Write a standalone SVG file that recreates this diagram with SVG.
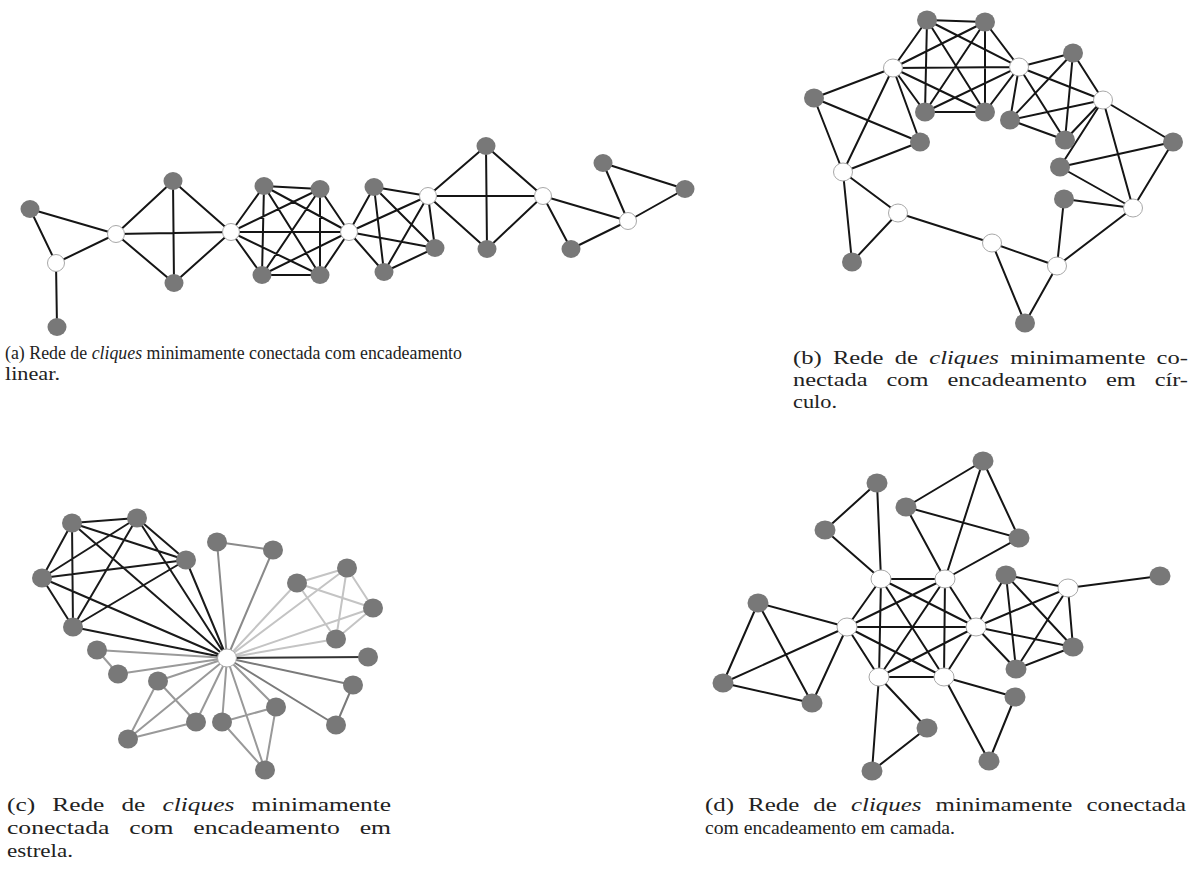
<svg xmlns="http://www.w3.org/2000/svg" width="1194" height="871" viewBox="0 0 1194 871">
<style>
.e{stroke:#151515;stroke-width:2;fill:none;stroke-linecap:round}
.g{fill:#787878}
.w{fill:#fff;stroke:#a8a8a8;stroke-width:1}
.cap{font-family:"Liberation Serif","DejaVu Serif",serif;fill:#222}
.it{font-style:italic}
</style>
<rect width="1194" height="871" fill="#fff"/>

<g id="connectors">
 <g id="edges-a" class="e">
  <path d="M30 209L116 234M30 209L56 263M56 263L116 234M56 263L57 327"/>
  <path d="M116 234L173 181M116 234L174 283M116 234L231 232M173 181L174 283M173 181L231 232M174 283L231 232"/>
  <path d="M231 232L264 186M231 232L320 189M231 232L262 275M231 232L320 275M231 232L349 232M264 186L320 189M264 186L262 275M264 186L320 275M264 186L349 232M320 189L262 275M320 189L320 275M320 189L349 232M262 275L320 275M262 275L349 232M320 275L349 232"/>
  <path d="M349 232L374 187M349 232L428 196M349 232L435 248M349 232L384 272M374 187L428 196M374 187L435 248M374 187L384 272M428 196L435 248M428 196L384 272M435 248L384 272"/>
  <path d="M428 196L486 146M428 196L487 249M428 196L543 196M486 146L487 249M486 146L543 196M487 249L543 196"/>
  <path d="M543 196L571 249M543 196L628 221M571 249L628 221M628 221L603 163M628 221L685 189M603 163L685 189"/>
 </g>
 <g id="edges-b" class="e">
  <path d="M893 68L927 20M893 68L985 22M893 68L1019 67M893 68L925 112M893 68L985 112M927 20L985 22M927 20L1019 67M927 20L925 112M927 20L985 112M985 22L1019 67M985 22L925 112M985 22L985 112M1019 67L925 112M1019 67L985 112M925 112L985 112"/>
  <path d="M1019 67L1073 53M1019 67L1103 100M1019 67L1010 120M1019 67L1065 140M1073 53L1103 100M1073 53L1010 120M1073 53L1065 140M1103 100L1010 120M1103 100L1065 140M1010 120L1065 140"/>
  <path d="M1103 100L1173 142M1103 100L1060 167M1103 100L1133 208M1173 142L1060 167M1173 142L1133 208M1060 167L1133 208"/>
  <path d="M1133 208L1064 199M1133 208L1057 266M1064 199L1057 266M1057 266L992 243M1057 266L1025 323M992 243L1025 323M992 243L898 213"/>
  <path d="M898 213L843 172M898 213L852 262M843 172L852 262M843 172L814 98M843 172L893 68M843 172L920 142M814 98L893 68M814 98L920 142M893 68L920 142"/>
 </g>
 <g id="edges-c" class="e">
  <path stroke="#1a1a1a" d="M227 658L72 523M227 658L137 518M227 658L186 560M227 658L42 578M227 658L73 627M72 523L137 518M72 523L186 560M72 523L42 578M72 523L73 627M137 518L186 560M137 518L42 578M137 518L73 627M186 560L42 578M186 560L73 627M42 578L73 627"/>
  <path stroke="#8a8a8a" d="M227 658L217 542M227 658L273 550M217 542L273 550"/>
  <path stroke="#c4c4c4" d="M227 658L297 583M227 658L347 568M227 658L373 608M227 658L336 639M297 583L347 568M297 583L373 608M297 583L336 639M347 568L373 608M347 568L336 639M373 608L336 639"/>
  <path stroke="#333" d="M227 658L368 657"/>
  <path stroke="#7a7a7a" d="M227 658L353 685M227 658L336 725M353 685L336 725"/>
  <path stroke="#9a9a9a" d="M227 658L97 650M227 658L118 674M97 650L118 674"/>
  <path stroke="#999" d="M227 658L158 681M227 658L196 722M227 658L128 739M158 681L196 722M158 681L128 739M196 722L128 739"/>
  <path stroke="#999" d="M227 658L222 722M227 658L276 707M227 658L265 770M222 722L276 707M222 722L265 770M276 707L265 770"/>
 </g>
 <g id="edges-d" class="e">
  <path d="M881 579L945 579M881 579L847 627M881 579L976 627M881 579L879 677M881 579L944 677M945 579L847 627M945 579L976 627M945 579L879 677M945 579L944 677M847 627L976 627M847 627L879 677M847 627L944 677M976 627L879 677M976 627L944 677M879 677L944 677"/>
  <path d="M881 579L877 483M881 579L825 530M877 483L825 530"/>
  <path d="M945 579L983 461M945 579L906 507M945 579L1019 538M983 461L906 507M983 461L1019 538M906 507L1019 538"/>
  <path d="M847 627L758 603M847 627L723 683M847 627L812 703M758 603L723 683M758 603L812 703M723 683L812 703"/>
  <path d="M976 627L1006 575M976 627L1068 588M976 627L1073 647M976 627L1016 669M1006 575L1068 588M1006 575L1073 647M1006 575L1016 669M1068 588L1073 647M1068 588L1016 669M1073 647L1016 669M1068 588L1160 576"/>
  <path d="M879 677L927 728M879 677L872 771M927 728L872 771M944 677L1015 697M944 677L989 761M1015 697L989 761"/>
 </g>
</g>

<g id="nodes-a">
 <g id="a1"><ellipse class="g" cx="30" cy="209" rx="9.5" ry="9"/></g>
 <g id="a2"><ellipse class="w" cx="56" cy="263" rx="8.5" ry="8.5"/></g>
 <g id="a3"><ellipse class="g" cx="57" cy="327" rx="9.5" ry="9"/></g>
 <g id="a4"><ellipse class="w" cx="116" cy="234" rx="8.5" ry="8.5"/></g>
 <g id="a5"><ellipse class="g" cx="173" cy="181" rx="9.5" ry="9"/></g>
 <g id="a6"><ellipse class="g" cx="174" cy="283" rx="9.5" ry="9"/></g>
 <g id="a7"><ellipse class="w" cx="231" cy="232" rx="8.5" ry="8.5"/></g>
 <g id="a8"><ellipse class="g" cx="264" cy="186" rx="9.5" ry="9"/></g>
 <g id="a9"><ellipse class="g" cx="320" cy="189" rx="9.5" ry="9"/></g>
 <g id="a10"><ellipse class="g" cx="262" cy="275" rx="9.5" ry="9"/></g>
 <g id="a11"><ellipse class="g" cx="320" cy="275" rx="9.5" ry="9"/></g>
 <g id="a12"><ellipse class="w" cx="349" cy="232" rx="8.5" ry="8.5"/></g>
 <g id="a13"><ellipse class="g" cx="374" cy="187" rx="9.5" ry="9"/></g>
 <g id="a14"><ellipse class="w" cx="428" cy="196" rx="8.5" ry="8.5"/></g>
 <g id="a15"><ellipse class="g" cx="435" cy="248" rx="9.5" ry="9"/></g>
 <g id="a16"><ellipse class="g" cx="384" cy="272" rx="9.5" ry="9"/></g>
 <g id="a17"><ellipse class="g" cx="486" cy="146" rx="9.5" ry="9"/></g>
 <g id="a18"><ellipse class="g" cx="487" cy="249" rx="9.5" ry="9"/></g>
 <g id="a19"><ellipse class="w" cx="543" cy="196" rx="8.5" ry="8.5"/></g>
 <g id="a20"><ellipse class="g" cx="571" cy="249" rx="9.5" ry="9"/></g>
 <g id="a21"><ellipse class="g" cx="603" cy="163" rx="9.5" ry="9"/></g>
 <g id="a22"><ellipse class="g" cx="685" cy="189" rx="9.5" ry="9"/></g>
 <g id="a23"><ellipse class="w" cx="628" cy="221" rx="8.5" ry="8.5"/></g>
</g>

<g id="nodes-b">
 <g id="b1"><ellipse class="g" cx="927" cy="20" rx="10" ry="9.5"/></g>
 <g id="b2"><ellipse class="g" cx="985" cy="22" rx="10" ry="9.5"/></g>
 <g id="b3"><ellipse class="w" cx="893" cy="68" rx="9.5" ry="9"/></g>
 <g id="b4"><ellipse class="w" cx="1019" cy="67" rx="9.5" ry="9"/></g>
 <g id="b5"><ellipse class="g" cx="925" cy="112" rx="10" ry="9.5"/></g>
 <g id="b6"><ellipse class="g" cx="985" cy="112" rx="10" ry="9.5"/></g>
 <g id="b7"><ellipse class="g" cx="1073" cy="53" rx="10" ry="9.5"/></g>
 <g id="b8"><ellipse class="w" cx="1103" cy="100" rx="9.5" ry="9"/></g>
 <g id="b9"><ellipse class="g" cx="1010" cy="120" rx="10" ry="9.5"/></g>
 <g id="b10"><ellipse class="g" cx="1065" cy="140" rx="10" ry="9.5"/></g>
 <g id="b11"><ellipse class="g" cx="814" cy="98" rx="10" ry="9.5"/></g>
 <g id="b12"><ellipse class="g" cx="920" cy="142" rx="10" ry="9.5"/></g>
 <g id="b13"><ellipse class="w" cx="843" cy="172" rx="9.5" ry="9"/></g>
 <g id="b14"><ellipse class="g" cx="1173" cy="142" rx="10" ry="9.5"/></g>
 <g id="b15"><ellipse class="g" cx="1060" cy="167" rx="10" ry="9.5"/></g>
 <g id="b16"><ellipse class="g" cx="1064" cy="199" rx="10" ry="9.5"/></g>
 <g id="b17"><ellipse class="w" cx="1133" cy="208" rx="9.5" ry="9"/></g>
 <g id="b18"><ellipse class="w" cx="898" cy="213" rx="9.5" ry="9"/></g>
 <g id="b19"><ellipse class="w" cx="992" cy="243" rx="9.5" ry="9"/></g>
 <g id="b20"><ellipse class="w" cx="1057" cy="266" rx="9.5" ry="9"/></g>
 <g id="b21"><ellipse class="g" cx="852" cy="262" rx="10" ry="9.5"/></g>
 <g id="b22"><ellipse class="g" cx="1025" cy="323" rx="10" ry="9.5"/></g>
</g>

<g id="nodes-c">
 <g id="c0"><ellipse class="w" cx="227" cy="658" rx="9.5" ry="9"/></g>
 <g id="c1"><ellipse class="g" cx="72" cy="523" rx="10" ry="9.5"/></g>
 <g id="c2"><ellipse class="g" cx="137" cy="518" rx="10" ry="9.5"/></g>
 <g id="c3"><ellipse class="g" cx="186" cy="560" rx="10" ry="9.5"/></g>
 <g id="c4"><ellipse class="g" cx="42" cy="578" rx="10" ry="9.5"/></g>
 <g id="c5"><ellipse class="g" cx="73" cy="627" rx="10" ry="9.5"/></g>
 <g id="c6"><ellipse class="g" cx="217" cy="542" rx="10" ry="9.5"/></g>
 <g id="c7"><ellipse class="g" cx="273" cy="550" rx="10" ry="9.5"/></g>
 <g id="c8"><ellipse class="g" cx="297" cy="583" rx="10" ry="9.5"/></g>
 <g id="c9"><ellipse class="g" cx="347" cy="568" rx="10" ry="9.5"/></g>
 <g id="c10"><ellipse class="g" cx="373" cy="608" rx="10" ry="9.5"/></g>
 <g id="c11"><ellipse class="g" cx="336" cy="639" rx="10" ry="9.5"/></g>
 <g id="c12"><ellipse class="g" cx="368" cy="657" rx="10" ry="9.5"/></g>
 <g id="c13"><ellipse class="g" cx="353" cy="685" rx="10" ry="9.5"/></g>
 <g id="c14"><ellipse class="g" cx="336" cy="725" rx="10" ry="9.5"/></g>
 <g id="c15"><ellipse class="g" cx="97" cy="650" rx="10" ry="9.5"/></g>
 <g id="c16"><ellipse class="g" cx="118" cy="674" rx="10" ry="9.5"/></g>
 <g id="c17"><ellipse class="g" cx="158" cy="681" rx="10" ry="9.5"/></g>
 <g id="c18"><ellipse class="g" cx="196" cy="722" rx="10" ry="9.5"/></g>
 <g id="c19"><ellipse class="g" cx="128" cy="739" rx="10" ry="9.5"/></g>
 <g id="c20"><ellipse class="g" cx="222" cy="722" rx="10" ry="9.5"/></g>
 <g id="c21"><ellipse class="g" cx="276" cy="707" rx="10" ry="9.5"/></g>
 <g id="c22"><ellipse class="g" cx="265" cy="770" rx="10" ry="9.5"/></g>
</g>

<g id="nodes-d">
 <g id="d1"><ellipse class="w" cx="881" cy="579" rx="10" ry="9"/></g>
 <g id="d2"><ellipse class="w" cx="945" cy="579" rx="10" ry="9"/></g>
 <g id="d3"><ellipse class="w" cx="847" cy="627" rx="10" ry="9"/></g>
 <g id="d4"><ellipse class="w" cx="976" cy="627" rx="10" ry="9"/></g>
 <g id="d5"><ellipse class="w" cx="879" cy="677" rx="10" ry="9"/></g>
 <g id="d6"><ellipse class="w" cx="944" cy="677" rx="10" ry="9"/></g>
 <g id="d7"><ellipse class="g" cx="877" cy="483" rx="10.5" ry="9.5"/></g>
 <g id="d8"><ellipse class="g" cx="825" cy="530" rx="10.5" ry="9.5"/></g>
 <g id="d9"><ellipse class="g" cx="983" cy="461" rx="10.5" ry="9.5"/></g>
 <g id="d10"><ellipse class="g" cx="906" cy="507" rx="10.5" ry="9.5"/></g>
 <g id="d11"><ellipse class="g" cx="1019" cy="538" rx="10.5" ry="9.5"/></g>
 <g id="d12"><ellipse class="g" cx="758" cy="603" rx="10.5" ry="9.5"/></g>
 <g id="d13"><ellipse class="g" cx="723" cy="683" rx="10.5" ry="9.5"/></g>
 <g id="d14"><ellipse class="g" cx="812" cy="703" rx="10.5" ry="9.5"/></g>
 <g id="d15"><ellipse class="g" cx="1006" cy="575" rx="10.5" ry="9.5"/></g>
 <g id="d16"><ellipse class="w" cx="1068" cy="588" rx="10" ry="9"/></g>
 <g id="d17"><ellipse class="g" cx="1073" cy="647" rx="10.5" ry="9.5"/></g>
 <g id="d18"><ellipse class="g" cx="1016" cy="669" rx="10.5" ry="9.5"/></g>
 <g id="d19"><ellipse class="g" cx="1160" cy="576" rx="10.5" ry="9.5"/></g>
 <g id="d20"><ellipse class="g" cx="927" cy="728" rx="10.5" ry="9.5"/></g>
 <g id="d21"><ellipse class="g" cx="872" cy="771" rx="10.5" ry="9.5"/></g>
 <g id="d22"><ellipse class="g" cx="1015" cy="697" rx="10.5" ry="9.5"/></g>
 <g id="d23"><ellipse class="g" cx="989" cy="761" rx="10.5" ry="9.5"/></g>
</g>

<g id="captions" class="cap">
 <g font-size="18">
  <text x="5" y="359" textLength="457" lengthAdjust="spacingAndGlyphs">(a) Rede de <tspan class="it">cliques</tspan> minimamente conectada com encadeamento</text>
  <text x="5" y="380" textLength="55" lengthAdjust="spacingAndGlyphs">linear.</text>
 </g>
 <g font-size="19">
  <text x="793" y="364" textLength="395" lengthAdjust="spacingAndGlyphs" word-spacing="4">(b) Rede de <tspan class="it">cliques</tspan> minimamente co-</text>
  <text x="793" y="386" textLength="395" lengthAdjust="spacingAndGlyphs" word-spacing="10">nectada com encadeamento em cír-</text>
  <text x="793" y="408" textLength="44" lengthAdjust="spacingAndGlyphs">culo.</text>
 </g>
 <g font-size="19">
  <text x="7" y="811" textLength="384" lengthAdjust="spacingAndGlyphs" word-spacing="8">(c) Rede de <tspan class="it">cliques</tspan> minimamente</text>
  <text x="7" y="834" textLength="384" lengthAdjust="spacingAndGlyphs" word-spacing="10">conectada com encadeamento em</text>
  <text x="7" y="857" textLength="66" lengthAdjust="spacingAndGlyphs">estrela.</text>
 </g>
 <g font-size="19">
  <text x="705" y="811" textLength="481" lengthAdjust="spacingAndGlyphs" word-spacing="6">(d) Rede de <tspan class="it">cliques</tspan> minimamente conectada</text>
  <text x="705" y="834" textLength="250" lengthAdjust="spacingAndGlyphs">com encadeamento em camada.</text>
 </g>
</g>
</svg>
